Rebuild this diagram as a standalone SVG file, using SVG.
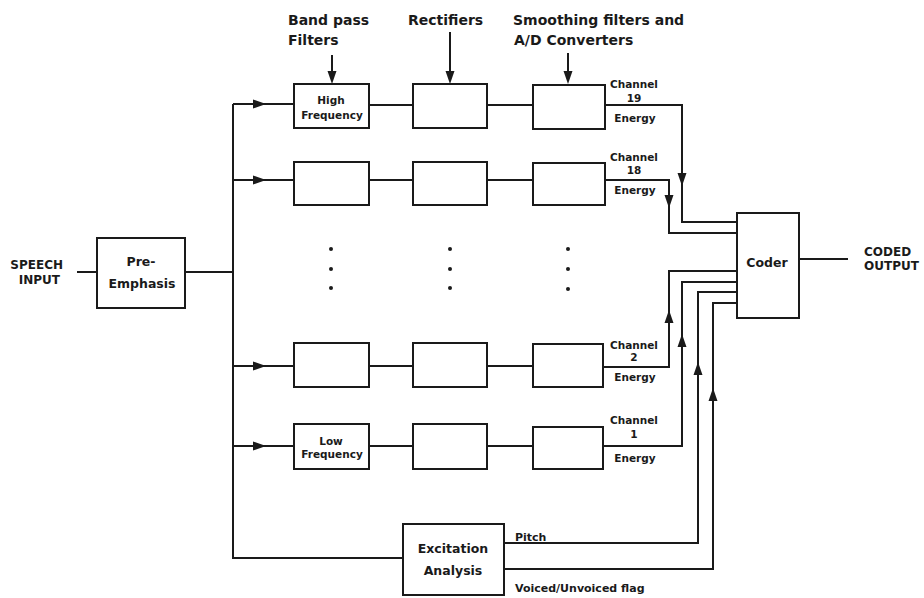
<svg xmlns="http://www.w3.org/2000/svg" width="924" height="598" viewBox="0 0 924 598">
<style>
  .box{fill:none;stroke:#1a1a1a;stroke-width:2}
  .ln{fill:none;stroke:#1a1a1a;stroke-width:2}
  text{font-family:"DejaVu Sans","Liberation Sans",sans-serif;font-weight:bold;fill:#1a1a1a}
  .hd{font-size:14px}
  .lb{font-size:12.5px;text-anchor:middle}
  .sm{font-size:10.5px;text-anchor:middle}
  .tag{font-size:11px}
  .dot{fill:#1a1a1a}
  .ah{fill:#1a1a1a}
</style>
<defs>
  <path id="ah" d="M0,0 L-13,-4.5 L-13,4.5 Z"/>
</defs>
<rect width="924" height="598" fill="#ffffff"/>

<g id="connectors">
  <path class="ln" d="M77,272 H97"/>
  <path class="ln" d="M185,272 H233"/>
  <path class="ln" d="M233,104 V558 H403"/>
  <path class="ln" d="M233,104 H294"/>
  <path class="ln" d="M233,180 H294"/>
  <path class="ln" d="M233,366 H294"/>
  <path class="ln" d="M233,446 H294"/>
  <path class="ln" d="M369,105 H413 M487,105 H533"/>
  <path class="ln" d="M369,180 H413 M487,180 H533"/>
  <path class="ln" d="M369,366 H413 M487,366 H533"/>
  <path class="ln" d="M369,446 H413 M487,446 H533"/>
  <path class="ln" d="M605,105 H682 V222 H737"/>
  <path class="ln" d="M605,180 H669 V233 H737"/>
  <path class="ln" d="M603,367 H669 V271 H737"/>
  <path class="ln" d="M603,446 H682 V282 H737"/>
  <path class="ln" d="M504,543 H698 V292 H737"/>
  <path class="ln" d="M504,569 H713 V303 H737"/>
  <path class="ln" d="M799,259 H848"/>
  <path class="ln" d="M332,55 V76"/>
  <path class="ln" d="M450,32 V76"/>
  <path class="ln" d="M568,53 V76"/>
  <use href="#ah" class="ah" transform="translate(332,84) rotate(90)"/>
  <use href="#ah" class="ah" transform="translate(450,84) rotate(90)"/>
  <use href="#ah" class="ah" transform="translate(568,84) rotate(90)"/>
  <use href="#ah" class="ah" transform="translate(266,104)"/>
  <use href="#ah" class="ah" transform="translate(266,180)"/>
  <use href="#ah" class="ah" transform="translate(266,366)"/>
  <use href="#ah" class="ah" transform="translate(266,446)"/>
  <use href="#ah" class="ah" transform="translate(682,186) rotate(90)"/>
  <use href="#ah" class="ah" transform="translate(669,208) rotate(90)"/>
  <use href="#ah" class="ah" transform="translate(669,310) rotate(-90)"/>
  <use href="#ah" class="ah" transform="translate(682,334) rotate(-90)"/>
  <use href="#ah" class="ah" transform="translate(698,362) rotate(-90)"/>
  <use href="#ah" class="ah" transform="translate(713,388) rotate(-90)"/>
</g>

<g id="labels">
  <text class="hd" x="288" y="25">Band pass</text>
  <text class="hd" x="288" y="45">Filters</text>
  <text class="hd" x="408" y="25">Rectifiers</text>
  <text class="hd" x="513" y="25">Smoothing filters and</text>
  <text class="hd" x="514" y="45">A/D Converters</text>
  <text style="font-size:12px;text-anchor:end" x="63" y="269">SPEECH</text>
  <text style="font-size:12px;text-anchor:end" x="60" y="284">INPUT</text>
  <text style="font-size:12px" x="864" y="256">CODED</text>
  <text style="font-size:12px" x="864" y="270">OUTPUT</text>
  <text class="sm" x="634" y="88">Channel</text>
  <text class="sm" x="634" y="102">19</text>
  <text class="sm" x="635" y="122">Energy</text>
  <text class="sm" x="634" y="161">Channel</text>
  <text class="sm" x="634" y="174">18</text>
  <text class="sm" x="635" y="194">Energy</text>
  <text class="sm" x="634" y="349">Channel</text>
  <text class="sm" x="634" y="361">2</text>
  <text class="sm" x="635" y="381">Energy</text>
  <text class="sm" x="634" y="424">Channel</text>
  <text class="sm" x="634" y="438">1</text>
  <text class="sm" x="635" y="462">Energy</text>
  <text class="tag" x="515" y="541">Pitch</text>
  <text class="tag" x="515" y="592">Voiced/Unvoiced flag</text>
</g>

<g id="pre-emphasis">
  <rect class="box" x="97" y="238" width="88" height="70"/>
  <text class="lb" x="141" y="266">Pre-</text>
  <text class="lb" x="142" y="288">Emphasis</text>
</g>

<g id="bpf-high">
  <rect class="box" x="294" y="84" width="75" height="44"/>
  <text class="sm" x="331" y="104">High</text>
  <text class="sm" x="332" y="119">Frequency</text>
</g>
<g id="bpf-18"><rect class="box" x="294" y="162" width="75" height="43"/></g>
<g id="bpf-2"><rect class="box" x="294" y="343" width="75" height="44"/></g>
<g id="bpf-low">
  <rect class="box" x="294" y="424" width="75" height="45"/>
  <text class="sm" x="331" y="445">Low</text>
  <text class="sm" x="332" y="458">Frequency</text>
</g>

<g id="rect-19"><rect class="box" x="413" y="84" width="74" height="44"/></g>
<g id="rect-18"><rect class="box" x="413" y="162" width="74" height="43"/></g>
<g id="rect-2"><rect class="box" x="413" y="343" width="74" height="44"/></g>
<g id="rect-1"><rect class="box" x="413" y="424" width="74" height="45"/></g>

<g id="smooth-19"><rect class="box" x="533" y="85" width="72" height="44"/></g>
<g id="smooth-18"><rect class="box" x="533" y="163" width="72" height="42"/></g>
<g id="smooth-2"><rect class="box" x="533" y="344" width="70" height="43"/></g>
<g id="smooth-1"><rect class="box" x="533" y="427" width="70" height="42"/></g>

<g id="dots">
  <circle class="dot" cx="331" cy="249" r="2"/>
  <circle class="dot" cx="331" cy="269" r="2"/>
  <circle class="dot" cx="331" cy="288" r="2"/>
  <circle class="dot" cx="450" cy="249" r="2"/>
  <circle class="dot" cx="450" cy="269" r="2"/>
  <circle class="dot" cx="450" cy="288" r="2"/>
  <circle class="dot" cx="568" cy="249" r="2"/>
  <circle class="dot" cx="568" cy="269" r="2"/>
  <circle class="dot" cx="568" cy="289" r="2"/>
</g>

<g id="coder">
  <rect class="box" x="737" y="213" width="62" height="105"/>
  <text class="lb" x="767" y="267">Coder</text>
</g>

<g id="excitation">
  <rect class="box" x="403" y="524" width="101" height="71"/>
  <text class="lb" x="453" y="553">Excitation</text>
  <text class="lb" x="453" y="575">Analysis</text>
</g>
</svg>
